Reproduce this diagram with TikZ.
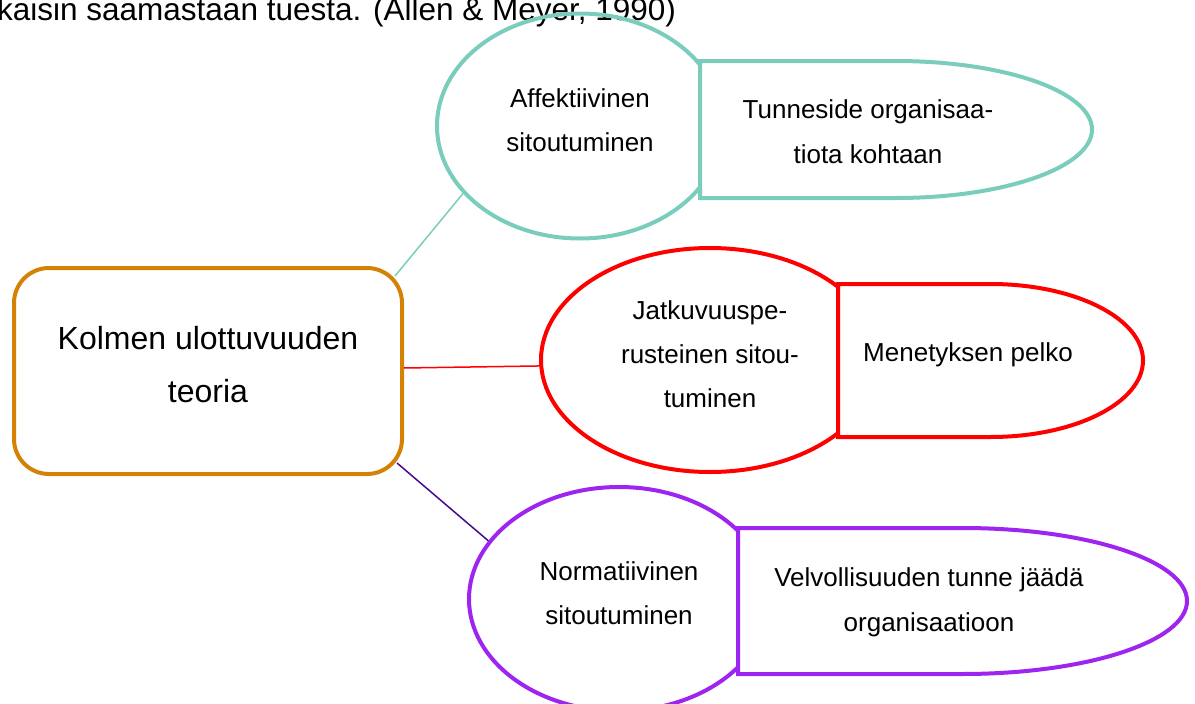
\documentclass[tikz,border=0pt]{standalone}
\usepackage{fontspec}
\setmainfont{Liberation Sans}
\usetikzlibrary{shapes.geometric}
\definecolor{affteal}{RGB}{122,204,189}
\definecolor{contred}{RGB}{255,0,0}
\definecolor{normviolet}{RGB}{158,36,240}
\definecolor{normlink}{RGB}{70,10,140}
\definecolor{theoryorange}{RGB}{212,130,6}
\tikzset{theory/.style={draw=theoryorange, line width=4pt, rounded corners=35pt, fill=white, minimum width=388pt, minimum height=206pt, align=center, font=\fontsize{32}{53}\selectfont, execute at end node={\rule[-14pt]{0pt}{0pt}}}}
\tikzset{dimension/.style={ellipse, line width=4pt, align=center, font=\fontsize{26}{44}\selectfont, execute at end node={\rule[-12pt]{0pt}{0pt}}}}
\tikzset{meaning/.style={line width=4pt, fill=white}}
\tikzset{meaningtext/.style={align=center, font=\fontsize{26}{45}\selectfont}}
\tikzset{link/.style={line width=1.5pt}}

\begin{document}
\begin{tikzpicture}[x=1pt, y=1pt]
      \useasboundingbox (0,0) rectangle (1195,-704);
      \clip (0,0) rectangle (1195,-704);

      \node[anchor=base west, inner sep=0pt, font=\fontsize{31.5}{38}\selectfont] (source) at (-3,-20) {kaisin saamastaan tuesta. (Allen \& Meyer, 1990)};

      \node[theory] (kolmen) at (208,-371) {Kolmen ulottuvuuden\\teoria};

      \node[dimension, draw=affteal, minimum width=286pt, minimum height=225pt] (aff) at (580,-126) {Affektiivinen\\sitoutuminen};
      \node[dimension, draw=contred, minimum width=338pt, minimum height=224pt] (jatk) at (710,-360) {Jatkuvuuspe-\\rusteinen sitou-\\tuminen};
      \node[dimension, draw=normviolet, minimum width=300pt, minimum height=224pt] (norm) at (619,-599) {Normatiivinen\\sitoutuminen};

      % tabs on the right
      \draw[meaning, draw=affteal] (700,-61) -- (896,-61) arc[start angle=90, end angle=-90, x radius=196, y radius=68.5] -- (700,-198) -- cycle;
      \draw[meaning, draw=contred] (838,-284) -- (990.5,-284) arc[start angle=90, end angle=-90, x radius=152.5, y radius=76.5] -- (838,-437) -- cycle;
      \draw[meaning, draw=normviolet] (738,-528) -- (962.5,-528) arc[start angle=90, end angle=-90, x radius=224.5, y radius=73] -- (738,-674) -- cycle;

      \node[meaningtext] (tunne) at (868,-132) {Tunneside organisaa-\\tiota kohtaan};
      \node[meaningtext] (pelko) at (968,-355) {Menetyksen pelko};
      \node[meaningtext] (velvo) at (929,-602) {Velvollisuuden tunne jäädä\\organisaatioon};

      \draw[link, affteal] ([xshift=-9pt, yshift=-10pt]kolmen.north east) -- (aff.210);
      \draw[link, contred] ([yshift=3pt]kolmen.east) -- (jatk.182);
      \draw[link, normlink] ([xshift=-7pt, yshift=13pt]kolmen.south east) -- (norm.156);
    \end{tikzpicture}
\end{document}
